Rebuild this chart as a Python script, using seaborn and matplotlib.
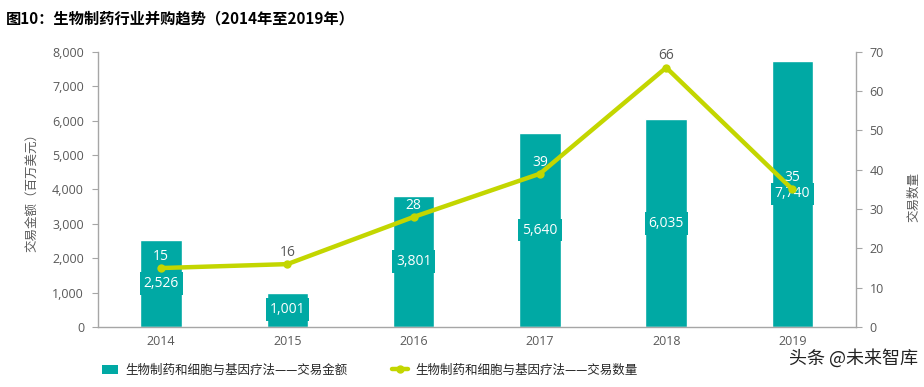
import matplotlib
matplotlib.use("Agg")
import matplotlib.pyplot as plt
from matplotlib.patches import Patch
from matplotlib.lines import Line2D
import numpy as np
import pandas as pd
import seaborn as sns

years = ["2014", "2015", "2016", "2017", "2018", "2019"]
deal_value = [2526, 1001, 3801, 5640, 6035, 7740]   # 百万美元
deal_count = [15, 16, 28, 39, 66, 35]

title = "图10：生物制药行业并购趋势（2014年至2019年）"
left_label = "交易金额（百万美元）"
right_label = "交易数量"
bar_name = "生物制药和细胞与基因疗法——交易金额"
line_name = "生物制药和细胞与基因疗法——交易数量"
watermark = "头条 @未来智库"

teal = "#00A9A4"
lime = "#C3D600"
grey = "#595959"
spine_grey = "#A6A6A6"

sns.set_theme(style="white")
plt.rcParams["font.family"] = ["Open Sans", "Noto Sans CJK SC", "DejaVu Sans"]

df = pd.DataFrame({"year": years, "value": deal_value, "count": deal_count})

fig = plt.figure(figsize=(9.24, 3.87), dpi=100)
ax = fig.add_axes([0.106, 0.155, 0.82, 0.711])

sns.barplot(data=df, x="year", y="value", color=teal, saturation=1,
            width=0.33, ax=ax)
ax.set_ylim(0, 8000)
ax.set_xlim(-0.5, 5.5)
ax.set_yticks(range(0, 8001, 1000))
ax.set_yticklabels([f"{v:,}" for v in range(0, 8001, 1000)])
ax.set_xlabel("")
ax.set_ylabel(left_label, color=grey, fontsize=9, labelpad=10,
              family=["Noto Sans CJK SC"])

# bar value labels in boxes at mid-height
for i, v in enumerate(deal_value):
    ax.text(i, v / 2, f"{v:,}", ha="center", va="center", color="white",
            fontsize=10,
            bbox=dict(boxstyle="square,pad=0.28", fc=teal, ec="none"))

ax2 = ax.twinx()
sns.lineplot(x=np.arange(len(years)), y=deal_count, color=lime, lw=3.2,
             marker="o", markersize=6, markeredgewidth=0, ax=ax2)
ax2.set_ylim(0, 70)
ax2.set_yticks(range(0, 71, 10))
ax2.set_xlim(-0.5, 5.5)

for i, c in enumerate(deal_count):
    # label sits on the bar -> white, otherwise grey
    inside = c / 70 * 8000 + 400 < deal_value[i]
    ax2.annotate(str(c), (i, c), xytext=(0, 3), textcoords="offset points",
                 ha="center", va="bottom", fontsize=10,
                 color="white" if inside else grey)

for a in (ax, ax2):
    a.spines["top"].set_visible(False)
    for s in ("left", "right", "bottom"):
        a.spines[s].set_color(spine_grey)
        a.spines[s].set_linewidth(1.0)
    a.tick_params(axis="y", colors=grey, labelsize=9, length=4, width=0.8,
                  color=spine_grey)
    a.tick_params(axis="x", colors=grey, labelsize=9, length=0)
ax.spines["right"].set_visible(False)
ax2.spines["left"].set_visible(False)
ax2.spines["bottom"].set_visible(False)
ax.tick_params(axis="y", left=True, pad=6)
ax2.tick_params(axis="y", right=True, pad=6)
ax.tick_params(axis="x", pad=6)
ax2.set_ylabel("")

fig.text(0.989, 0.49, right_label, rotation=90, ha="center", va="center",
         color=grey, fontsize=9, family=["Noto Sans CJK SC"])

fig.text(0.006, 0.952, title, ha="left", va="center", fontsize=11,
         fontweight="bold", color="black",
         family=["Noto Sans CJK SC", "DejaVu Sans"])

handles = [Patch(facecolor=teal, edgecolor="none"),
           Line2D([0], [0], color=lime, lw=3.2, marker="o", markersize=5)]
fig.legend(handles, [bar_name, line_name], loc="center left",
           bbox_to_anchor=(0.098, 0.043), ncol=2, frameon=False,
           handlelength=1.3, columnspacing=3.5, handletextpad=0.6,
           prop={"family": ["Noto Sans CJK SC"], "size": 9})

fig.text(0.993, 0.075, watermark, ha="right", va="center", fontsize=13,
         color="#222222", family=["Noto Sans CJK SC"])

fig.savefig("out.png", dpi=100)
